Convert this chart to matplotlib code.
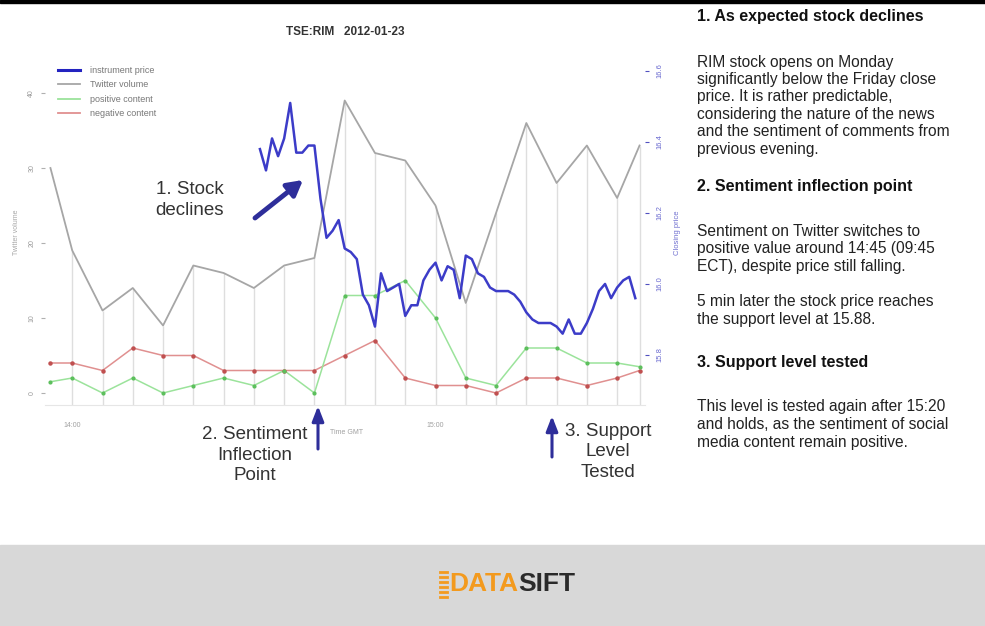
import matplotlib
matplotlib.use("Agg")
import matplotlib.pyplot as plt
from matplotlib.patches import Rectangle, FancyArrowPatch
from matplotlib.lines import Line2D
from matplotlib.transforms import IdentityTransform
import numpy as np

# ---------------- data ----------------
title = "TSE:RIM   2012-01-23"
vol_times = ["13:56", "14:00", "14:05", "14:10", "14:15", "14:20", "14:25", "14:30",
             "14:35", "14:40", "14:45", "14:50", "14:55", "15:00", "15:05", "15:10",
             "15:15", "15:20", "15:25", "15:30", "15:34"]
twitter_volume = [30, 19, 11, 14, 9, 17, 16, 14, 17, 18, 39, 32, 31, 25, 12, 24, 36, 28, 33, 26, 33]
positive_content = [1.5, 2, 0, 2, 0, 1, 2, 1, 3, 0, 13, 13, 15, 10, 2, 1, 6, 6, 4, 4, 3.5]
negative_content = [4, 4, 3, 6, 5, 5, 3, 3, 3, 3, 5, 7, 2, 1, 1, 0, 2, 2, 1, 2, 3]

price_start = "14:31"   # one quote per minute from here
instrument_price = [16.38, 16.32, 16.41, 16.36, 16.41, 16.51, 16.37, 16.37, 16.39, 16.39,
                    16.24, 16.13, 16.15, 16.18, 16.10, 16.09, 16.07, 15.97, 15.94, 15.88,
                    16.03, 15.98, 15.99, 16.00, 15.91, 15.94, 15.94, 16.01, 16.04, 16.06,
                    16.01, 16.05, 16.04, 15.96, 16.08, 16.07, 16.03, 16.02, 15.99, 15.98,
                    15.98, 15.98, 15.97, 15.95, 15.92, 15.90, 15.89, 15.89, 15.89, 15.88,
                    15.86, 15.90, 15.86, 15.86, 15.89, 15.93, 15.98, 16.00, 15.96, 15.99,
                    16.01, 16.02, 15.96]

left_ticks = [0, 10, 20, 30, 40]
right_ticks = [15.8, 16.0, 16.2, 16.4, 16.6]
x_tick_labels = ["14:00", "15:00"]

side_blocks = [
    ("1. As expected stock declines", [
        ["RIM stock opens on Monday",
         "significantly below the Friday close",
         "price. It is rather predictable,",
         "considering the nature of the news",
         "and the sentiment of comments from",
         "previous evening."]]),
    ("2. Sentiment inflection point", [
        ["Sentiment on Twitter switches to",
         "positive value around 14:45 (09:45",
         "ECT), despite price still falling."],
        ["5 min later the stock price reaches",
         "the support level at 15.88."]]),
    ("3. Support level tested", [
        ["This level is tested again after 15:20",
         "and holds, as the sentiment of social",
         "media content remain positive."]]),
]


def to_min(s):
    h, m = s.split(":")
    return (int(h) - 13) * 60 + int(m)


vt = np.array([to_min(s) for s in vol_times], dtype=float)
vt[0] += 0.4
vt[-1] -= 0.3
pt = to_min(price_start) + np.arange(len(instrument_price))

# ---------------- figure ----------------
W, H = 985, 626
fig = plt.figure(figsize=(W / 100, H / 100), dpi=100)
plt.rcParams["font.family"] = ["Liberation Sans", "DejaVu Sans"]
PIX = IdentityTransform()


def fy(y):
    return H - y


# top black bar and bottom grey band
fig.add_artist(Rectangle((0, fy(3)), W, 3, transform=PIX, color="black", zorder=0))
fig.add_artist(Rectangle((0, 0), W, H - 545, transform=PIX, color="#d8d8d8", zorder=0))

ax = fig.add_axes([45 / W, 1 - 405 / H, 600 / W, 345 / H])
ax.set_xlim(55.5, 154.6)
ax.set_ylim(-1.6, 44.4)

grey = "#a6a6a6"
ax.vlines(vt[1:], -1.6, np.array(twitter_volume[1:]), color="#dedede", lw=1, zorder=1)
ax.plot(vt, twitter_volume, color=grey, lw=1.3, zorder=2)
ax.plot(vt, negative_content, color="#e09090", lw=1.1, zorder=3)
ax.plot(vt, negative_content, "o", color="#c05050", ms=2.2, zorder=4)
ax.plot(vt, positive_content, color="#9be39b", lw=1.1, zorder=3)
ax.plot(vt, positive_content, "o", color="#5cbf5c", ms=2.0, zorder=4)

for s in ["top", "right", "left"]:
    ax.spines[s].set_visible(False)
ax.spines["bottom"].set_color("#e6e6e6")
ax.set_yticks(left_ticks)
ax.set_yticklabels([str(v) for v in left_ticks], rotation=90, va="center",
                   fontsize=5, color="#9a9a9a")
ax.tick_params(axis="y", length=3, color="#b0b0b0", pad=4)
ax.set_xticks([to_min(s) for s in x_tick_labels])
ax.set_xticklabels(x_tick_labels, fontsize=5, color="#a0a0a0")
ax.tick_params(axis="x", length=0, pad=12)
ax.set_ylabel("Twitter volume", fontsize=5, color="#a8a8a8", labelpad=6)

ax2 = ax.twinx()
ax2.set_ylim(15.659, 16.631)
ax2.plot(pt, instrument_price, color="#3c3cc8", lw=1.8, zorder=5)
for s in ["top", "right", "left", "bottom"]:
    ax2.spines[s].set_visible(False)
ax2.set_yticks(right_ticks)
ax2.set_yticklabels([f"{v:.1f}" for v in right_ticks], rotation=90, va="center",
                    fontsize=5.5, color="#6a6ad0")
ax2.tick_params(axis="y", length=3, color="#5050c0", pad=5)
ax2.set_ylabel("Closing price", fontsize=5.5, color="#7070d0", labelpad=8)

handles = [Line2D([], [], color="#2323c0", lw=2.2),
           Line2D([], [], color=grey, lw=1.3),
           Line2D([], [], color="#9be39b", lw=1.3),
           Line2D([], [], color="#e09090", lw=1.3)]
labels = ["instrument price", "Twitter volume", "positive content", "negative content"]
leg = ax2.legend(handles, labels, loc="upper left", bbox_to_anchor=(58, fy(66)),
                 bbox_transform=PIX, frameon=False, fontsize=6.5, handlelength=2.45,
                 handletextpad=1.1, labelspacing=0.6, borderpad=0, borderaxespad=0)
for t in leg.get_texts():
    t.set_color("#777777")

fig.text(345 / W, 1 - 32 / H, title, ha="center", va="center", fontsize=8.5,
         fontweight="bold", color="#333333")

# annotations
acol = "#2e2e9a"
fig.text(190 / W, 1 - 200 / H, "1. Stock\ndeclines", ha="center", va="center",
         fontsize=13.5, color="#333333", linespacing=1.35)
fig.add_artist(FancyArrowPatch((255, fy(218)), (303, fy(180)), transform=PIX,
                               arrowstyle="-|>,head_width=5,head_length=9",
                               color=acol, lw=3.5, shrinkA=0, shrinkB=0))
fig.text(255 / W, 1 - 455 / H, "2. Sentiment\nInflection\nPoint", ha="center", va="center",
         fontsize=13.5, color="#333333", linespacing=1.3)
fig.add_artist(FancyArrowPatch((318, fy(449)), (318, fy(406)), transform=PIX,
                               arrowstyle="-|>,head_width=3.5,head_length=9",
                               color=acol, lw=2.2, shrinkA=0, shrinkB=0))
fig.text(565 / W, 1 - 452 / H, "3. Support\nLevel\nTested", ha="left", va="center",
         fontsize=13.5, color="#333333", linespacing=1.3, multialignment="center")
fig.add_artist(FancyArrowPatch((552, fy(457)), (552, fy(416)), transform=PIX,
                               arrowstyle="-|>,head_width=3.5,head_length=9",
                               color=acol, lw=2.2, shrinkA=0, shrinkB=0))
fig.text(330 / W, 1 - 432 / H, "Time GMT", ha="left", va="center", fontsize=5,
         color="#a0a0a0")

# side text
heading_y = [17, 187, 363]
para_y = [[62], [231, 302], [407]]
lstep = 17.5
for (head, paras), hy, pys in zip(side_blocks, heading_y, para_y):
    fig.text(697 / W, 1 - hy / H, head, ha="left", va="center", fontsize=11.5,
             fontweight="bold", color="#111111")
    for lines, py in zip(paras, pys):
        for i, line in enumerate(lines):
            fig.text(697 / W, 1 - (py + i * lstep) / H, line, ha="left", va="center",
                     fontsize=11.2, color="#222222")

# logo
orange = "#f39a1e"
for k in range(6):
    yk = 572 + k * 5
    fig.add_artist(Line2D([440, 447], [fy(yk), fy(yk)], transform=PIX, color=orange, lw=2))
fig.text(518 / W, 1 - 584 / H, "DATA", ha="right", va="center", fontsize=19,
         fontweight="bold", color=orange)
fig.text(518 / W, 1 - 584 / H, "SIFT", ha="left", va="center", fontsize=19,
         fontweight="bold", color="#2a2a2a")

fig.savefig("out.png", dpi=100)
